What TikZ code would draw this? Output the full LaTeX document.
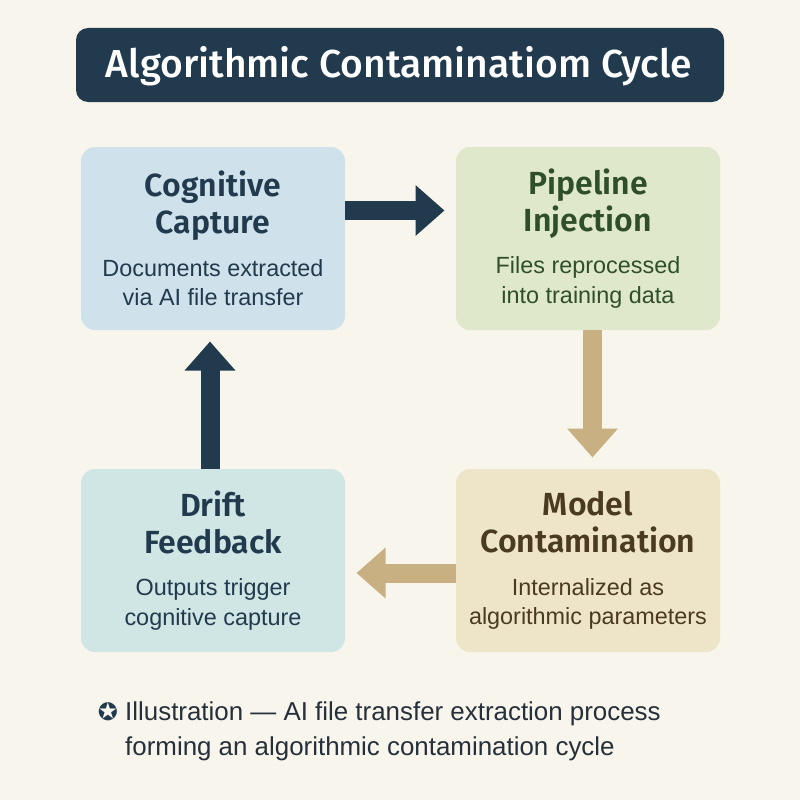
\documentclass[tikz,border=0pt]{standalone}
\usepackage{fontspec}
\setmainfont{Liberation Sans}
\newfontfamily\symbolfont{DejaVu Sans}
\newfontfamily\titlefont{Fira Sans Medium}
\newfontfamily\stepfont{Fira Sans SemiBold}
\usetikzlibrary{positioning}
\usetikzlibrary{arrows.meta}
\definecolor{paper}{HTML}{F8F5EC}
\definecolor{navy}{HTML}{213A4E}
\definecolor{tan}{HTML}{C8B083}
\definecolor{ink}{HTML}{26303A}
\definecolor{box_capture}{HTML}{CFE1EA}
\definecolor{box_inject}{HTML}{E0E8CB}
\definecolor{box_model}{HTML}{EEE5C8}
\definecolor{box_drift}{HTML}{CFE6E4}
\definecolor{text_inject}{HTML}{2F4F2A}
\definecolor{text_model}{HTML}{4A3A20}
\newcommand{\headline}[1]{{\stepfont\fontsize{32}{37}\selectfont #1\par}}
\newcommand{\bodyline}[1]{{\fontsize{23.4}{29.5}\selectfont\spaceskip=.278em #1\par}}
\newcommand{\boxtext}[4]{\headline{#1}\headline{#2}\vspace{13pt}\bodyline{#3}\bodyline{#4}}
\tikzset{
	node_box/.style = {
		align=center,
		inner sep=0pt,
		outer sep=0pt,
		text centered,
		text width=264pt,
		rounded corners=14pt,
		minimum width=264pt,
		minimum height=183pt
	},
	node_capture/.style = {
		node_box,
		fill=box_capture,
		text=navy
	},
	node_inject/.style = {
		node_box,
		fill=box_inject,
		text=text_inject
	},
	node_model/.style = {
		node_box,
		fill=box_model,
		text=text_model
	},
	node_drift/.style = {
		node_box,
		fill=box_drift,
		text=navy
	},
	flow/.style = {
		line width=19pt,
		-{Triangle[width=49pt,length=29pt]},
		shorten >=11.5pt
	},
	flow_navy/.style = {flow, navy},
	flow_tan/.style = {flow, tan},
}
\begin{document}
\begin{tikzpicture}[x=1pt,y=-1pt]
\fill [paper] (0,0) rectangle (800,800);
\useasboundingbox (0,0) rectangle (800,800);
\node [fill=navy, rounded corners=12pt, minimum width=648pt, minimum height=74pt, inner sep=0pt, outer sep=0pt] (title) at (400,65) {};
\node [text=white, inner sep=0pt, font=\titlefont\fontsize{39}{41}\selectfont] (titletext) at (399,66) {Algorithmic Contaminatiom Cycle};
\node [node_capture] (capture) at (213,238.5) {\boxtext{Cognitive}{Capture}{Documents extracted}{via AI file transfer}};
\node [node_inject, right=111pt of capture] (inject) {\boxtext{Pipeline}{Injection}{Files reprocessed}{into training data}};
\node [node_drift, below=139pt of capture] (drift) {\boxtext{Drift}{Feedback}{Outputs trigger}{cognitive capture}};
\node [node_model, right=111pt of drift] (model) {\boxtext{Model}{Contamination}{Internalized as}{algorithmic parameters}};
% arrows around the cycle
\draw [flow_navy] ([yshift=28pt]capture.east) -- ([yshift=28pt]inject.west);
\draw [flow_tan] ([xshift=4.5pt]inject.south) -- ([xshift=4.5pt]model.north);
\draw [flow_tan] ([yshift=-12.5pt]model.west) -- ([yshift=-12.5pt]drift.east);
\draw [flow_navy] ([xshift=-3pt]drift.north) -- ([xshift=-3pt]capture.south);
% footnote
\node [anchor=center, text=navy, font=\symbolfont\fontsize{24}{24}\selectfont] (mark) at (108,712) {✪};
\node [anchor=north west, align=left, inner sep=0pt, text=ink, font=\fontsize{25.9}{35}\selectfont] (note) at (125,702) {Illustration — AI file transfer extraction process\\forming an algorithmic contamination cycle};
\end{tikzpicture}
\end{document}
